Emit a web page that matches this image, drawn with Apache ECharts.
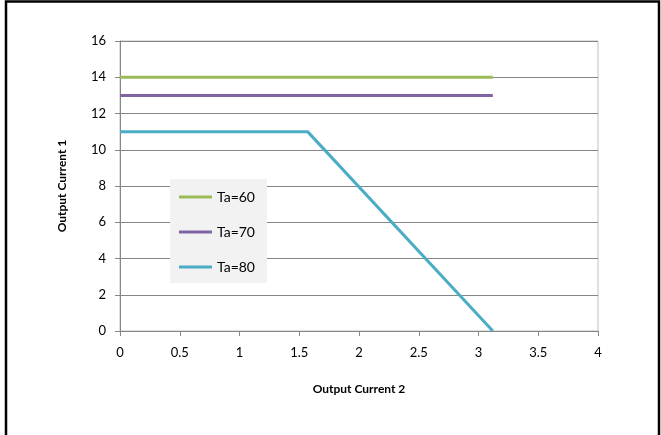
<!DOCTYPE html>
<html>
<head>
<meta charset="utf-8">
<script src="https://cdn.jsdelivr.net/npm/echarts@6/dist/echarts.min.js"></script>
<style>
html,body{margin:0;padding:0;background:#fff;}
#chart{width:661px;height:435px;}
</style>
</head>
<body>
<div id="chart"></div>
<script>
var seriesNames = ['Ta=60', 'Ta=70', 'Ta=80'];
var ta60 = [[0, 14], [3.12, 14]];
var ta70 = [[0, 13], [3.12, 13]];
var ta80 = [[0, 11], [1.57, 11], [3.12, 0]];
var colors = ['#9BBB59', '#8064A2', '#4BACC6'];
var xTicks = { min: 0, max: 4, interval: 0.5 };
var yTicks = { min: 0, max: 16, interval: 2 };

var font = 'Lato';
var chart = echarts.init(document.getElementById('chart'), null, { renderer: 'canvas' });
var dataSets = [ta60, ta70, ta80];
chart.setOption({
  animation: false,
  backgroundColor: '#fff',
  grid: { left: 120, right: 63, top: 41, bottom: 104, show: true, borderColor: '#bfbfbf', borderWidth: 1 },
  graphic: [{
    type: 'polyline', shape: { points: [[6, 440], [6, 1.5], [659, 1.5], [659, 440]] },
    style: { fill: null, stroke: '#000', lineWidth: 2.5 }, silent: true, z: 100
  }],
  legend: {
    orient: 'vertical', left: 170, top: 179,
    backgroundColor: '#f2f2f2', padding: [11, 12, 9, 9], itemGap: 21,
    icon: 'rect', itemWidth: 33, itemHeight: 3, itemTextGap: 1,
    textStyle: { fontFamily: font, fontSize: 14, color: '#000' },
    data: seriesNames
  },
  xAxis: {
    type: 'value', min: xTicks.min, max: xTicks.max, interval: xTicks.interval,
    name: 'Output Current 2', nameLocation: 'middle', nameGap: 52,
    nameTextStyle: { fontFamily: font, fontSize: 12, fontWeight: 'bold', color: '#000' },
    axisLine: { show: true, onZero: false, lineStyle: { color: '#868686', width: 1 } },
    axisTick: { show: true, length: 5, lineStyle: { color: '#868686' } },
    axisLabel: { margin: 15, fontFamily: font, fontSize: 13, color: '#000' },
    splitLine: { show: false }
  },
  yAxis: {
    type: 'value', min: yTicks.min, max: yTicks.max, interval: yTicks.interval,
    name: 'Output Current 1', nameLocation: 'middle', nameGap: 52,
    nameTextStyle: { fontFamily: font, fontSize: 12, fontWeight: 'bold', color: '#000' },
    axisLine: { show: true, lineStyle: { color: '#868686', width: 1 } },
    axisTick: { show: true, length: 5, lineStyle: { color: '#868686' } },
    axisLabel: { margin: 14, fontFamily: font, fontSize: 13, color: '#000' },
    splitLine: { show: true, lineStyle: { color: '#868686', width: 1 } }
  },
  series: seriesNames.map(function (n, i) {
    return {
      name: n, type: 'line', data: dataSets[i], showSymbol: false, symbol: 'none',
      lineStyle: { color: colors[i], width: 3 }, itemStyle: { color: colors[i] }
    };
  })
});
</script>
</body>
</html>
